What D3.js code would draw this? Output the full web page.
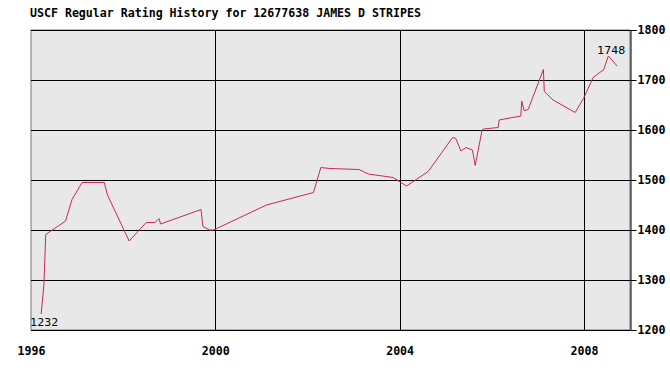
<!DOCTYPE html>
<html>
<head>
<meta charset="utf-8">
<script src="https://cdn.jsdelivr.net/npm/d3@7"></script>
<style>
  body { margin: 0; background: #fff; }
  text { fill: #000; }
</style>
</head>
<body>
<div id="chart-area"></div>
<script>
// rating history
let dates = [1996.22, 1996.28, 1996.32, 1996.75, 1996.89, 1997.11, 1997.59, 1997.66, 1998.13, 1998.50,
             1998.69, 1998.78, 1998.81, 1999.69, 1999.73, 1999.88, 1999.96, 2001.11, 2002.13, 2002.29,
             2002.49, 2003.12, 2003.32, 2003.86, 2004.15, 2004.62, 2005.15, 2005.22, 2005.33, 2005.44,
             2005.58, 2005.64, 2005.79, 2005.82, 2006.14, 2006.16, 2006.63, 2006.65, 2006.70, 2006.79,
             2007.12, 2007.14, 2007.33, 2007.81, 2007.99, 2008.20, 2008.43, 2008.53, 2008.72];
let ratings = [1232, 1290, 1391, 1418, 1461, 1495, 1495, 1470, 1378, 1415,
               1415, 1423, 1412, 1441, 1407, 1400, 1400, 1450, 1475, 1525,
               1523, 1521, 1512, 1505, 1488, 1517, 1585, 1583, 1558, 1565,
               1560, 1529, 1600, 1602, 1605, 1620, 1628, 1658, 1639, 1641,
               1721, 1677, 1660, 1635, 1663, 1705, 1721, 1748, 1728];
let yearTicks = [1996, 2000, 2004, 2008];
let ratingTicks = [1200, 1300, 1400, 1500, 1600, 1700, 1800];
let title = "USCF Regular Rating History for 12677638 JAMES D STRIPES";

let margin = { left: 31, right: 40, top: 30, bottom: 40 };
let width = 670 - margin.left - margin.right;
let height = 370 - margin.top - margin.bottom;

let svg = d3.select("#chart-area")
            .append("svg")
            .attr("width", 670)
            .attr("height", 370);

svg.append("text")
    .attr("x", 30)
    .attr("y", 17)
    .attr("font-family", "DejaVu Sans Mono")
    .attr("font-weight", "bold")
    .attr("font-size", "11.6px")
    .text(title);

let g = svg.append("g")
           .attr("transform", "translate(" + margin.left + "," + margin.top + ")");

let xScale = d3.scaleLinear().domain([1996, 2009]).range([0, width]);
let yScale = d3.scaleLinear().domain([1200, 1800]).range([height, 0]);

g.append("rect")
    .attr("width", width)
    .attr("height", height)
    .attr("fill", "#e8e8e8")
    .attr("stroke", "#777");

// grid
g.selectAll(".hgrid")
    .data(ratingTicks)
    .enter()
    .append("line")
    .attr("x1", 0)
    .attr("x2", width)
    .attr("y1", d => Math.round(yScale(d)) + 0.5)
    .attr("y2", d => Math.round(yScale(d)) + 0.5)
    .attr("stroke", "#000");

g.selectAll(".vgrid")
    .data(yearTicks.slice(1))
    .enter()
    .append("line")
    .attr("x1", d => Math.round(xScale(d)) + 0.5)
    .attr("x2", d => Math.round(xScale(d)) + 0.5)
    .attr("y1", 0)
    .attr("y2", height)
    .attr("stroke", "#000");

// right axis
let yAxis = d3.axisRight(yScale).tickValues(ratingTicks).tickFormat(d3.format("d")).tickSize(6).tickPadding(1);
g.append("g")
    .attr("class", "y-axis")
    .attr("transform", "translate(" + (width + 0.5) + ",0)")
    .call(yAxis)
    .call(a => a.select(".domain").attr("stroke", "#000"))
    .selectAll("text")
    .attr("font-family", "DejaVu Sans Mono")
    .attr("font-weight", "bold")
    .attr("font-size", "11.6px");

// bottom axis
let xAxis = d3.axisBottom(xScale).tickValues(yearTicks).tickFormat(d3.format("d")).tickSize(0).tickPadding(17);
g.append("g")
    .attr("class", "x-axis")
    .attr("transform", "translate(0," + height + ")")
    .call(xAxis)
    .call(a => a.select(".domain").remove())
    .selectAll("text")
    .attr("font-family", "DejaVu Sans Mono")
    .attr("font-weight", "bold")
    .attr("font-size", "11.6px");

// rating line
let line = d3.line()
             .x((d, i) => xScale(dates[i]))
             .y(d => yScale(d));

g.append("path")
    .datum(ratings)
    .attr("d", line)
    .attr("fill", "none")
    .attr("stroke", "#c8285a")
    .attr("stroke-width", 1);

// first and peak labels
let first = 0;
let peak = d3.maxIndex(ratings);

g.append("text")
    .attr("x", xScale(dates[first]) - 11)
    .attr("y", yScale(ratings[first]) + 12)
    .attr("font-family", "DejaVu Sans")
    .attr("font-size", "11px")
    .text(ratings[first]);

g.append("text")
    .attr("x", xScale(dates[peak]) + 3)
    .attr("y", yScale(ratings[peak]) - 2)
    .attr("text-anchor", "middle")
    .attr("font-family", "DejaVu Sans")
    .attr("font-size", "11px")
    .text(ratings[peak]);
</script>
</body>
</html>
